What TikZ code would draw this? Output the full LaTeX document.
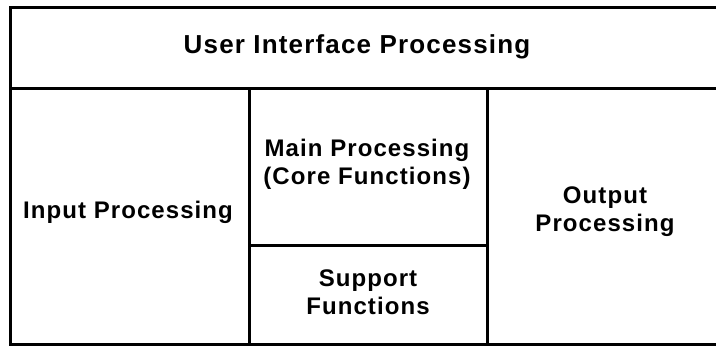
\documentclass[tikz,border=0pt]{standalone}
\usepackage{fontspec}
\setmainfont{Liberation Sans}[LetterSpace=4.5]
\begin{document}
\begin{tikzpicture}[x=1pt,y=1pt,
  frame/.style={line width=3pt},
  label/.style={align=center,font=\bfseries\fontsize{24}{28}\selectfont,inner sep=0pt},
  biglabel/.style={align=center,font=\bfseries\fontsize{26}{30}\selectfont,inner sep=0pt}]
  \useasboundingbox (0,0) rectangle (716,-346);
  % outer frame (right side runs past the edge)
  \draw[frame] (10,-7) rectangle (724,-344);
  % top band and column dividers
  \draw[frame] (10,-88) -- (724,-88);
  \draw[frame] (249,-88) -- (249,-344);
  \draw[frame] (487,-88) -- (487,-344);
  \draw[frame] (249,-245) -- (487,-245);
  % labels
  \node[biglabel] (ui)   at (357,-47)  {User Interface Processing};
  \node[label]    (inp)  at (128,-212) {Input Processing};
  \node[label]    (main) at (367,-164) {Main Processing\\(Core Functions)};
  \node[label]    (sup)  at (368,-292) {Support\\Functions};
  \node[label]    (out)  at (605,-212) {Output\\Processing};
\end{tikzpicture}
\end{document}
